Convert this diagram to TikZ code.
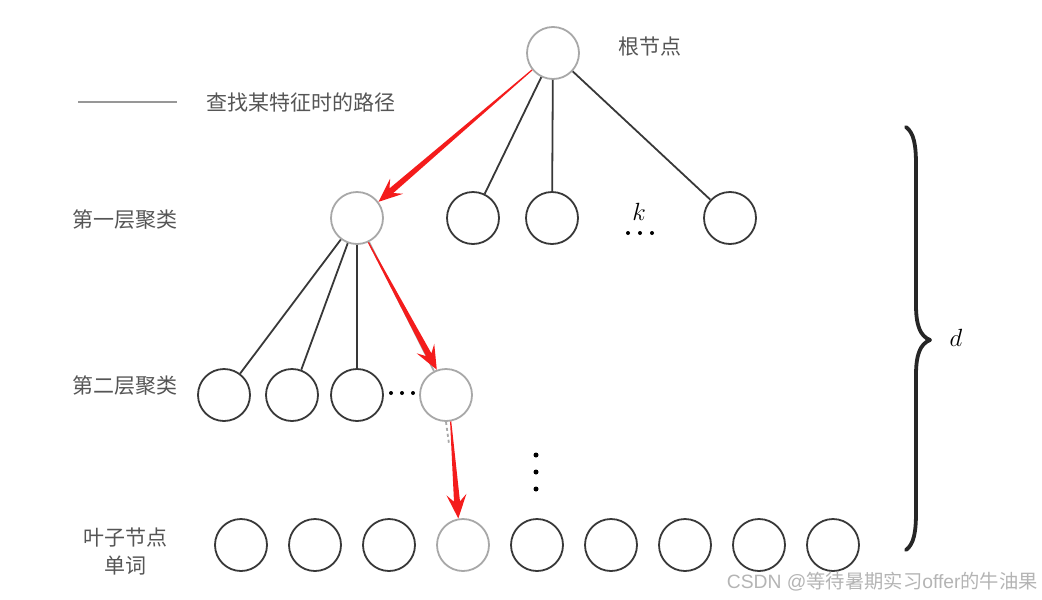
\documentclass[tikz,border=0pt]{standalone}
\usepackage{fontspec}
\newfontfamily\cjk{Noto Sans CJK SC}
\newfontfamily\wmfont{Liberation Sans}
\usetikzlibrary{arrows.meta,calc}
\definecolor{darkc}{HTML}{383838}
\definecolor{grayc}{HTML}{A8A8A8}
\definecolor{txtc}{HTML}{555555}
\definecolor{arrred}{HTML}{F41C1C}
\definecolor{wmc}{HTML}{B4B4B4}
\tikzset{
  dnode/.style={circle,draw=darkc,line width=1.8pt,minimum size=52pt,inner sep=0pt},
  gnode/.style={circle,draw=grayc,line width=1.8pt,minimum size=52pt,inner sep=0pt},
  dline/.style={draw=darkc,line width=1.8pt},
  gline/.style={draw=grayc,line width=1.8pt},
  lbl/.style={font=\cjk\fontsize{21pt}{25pt}\selectfont,text=txtc,inner sep=0pt},
  dotc/.style={fill=black},
}
\newcommand\redarr[2]{%
  \fill[arrred] ($(#1)!0.6pt!90:(#2)$) -- ($($(#2)!17pt!(#1)$)!3pt!90:(#2)$)
    -- ($($(#2)!24pt!(#1)$)!10pt!90:(#2)$) -- (#2)
    -- ($($(#2)!24pt!(#1)$)!10pt!-90:(#2)$) -- ($($(#2)!17pt!(#1)$)!3pt!-90:(#2)$)
    -- ($(#1)!0.6pt!-90:(#2)$) -- cycle;}
\begin{document}
\begin{tikzpicture}[x=1pt,y=-1pt]
\useasboundingbox (0,0) rectangle (1042,600);
% nodes
\node[gnode] (root) at (553,53) {};
\node[gnode] (L1a) at (357,218) {};
\node[dnode] (L1b) at (473,218) {};
\node[dnode] (L1c) at (552,218) {};
\node[dnode] (L1d) at (730,218) {};
\node[dnode] (L2a) at (224,395) {};
\node[dnode] (L2b) at (292,395) {};
\node[dnode] (L2c) at (357,395) {};
\node[gnode] (L2d) at (446,395) {};
\foreach \x/\n in {241/1,315/2,389/3,537/5,611/6,685/7,759/8,833/9}
  \node[dnode] (leaf\n) at (\x,545) {};
\node[gnode] (leaf4) at (463,545) {};
% connectors
\draw[dline] (root) -- (L1b);
\draw[dline] (root) -- (L1c);
\draw[dline] (root) -- (L1d);
\draw[dline] (L1a) -- (L2a);
\draw[dline] (L1a) -- (L2b);
\draw[dline] (L1a) -- (L2c);
\draw[gline] (L1a) -- (L2d);
\draw[gline,dashed] (L2d.south) -- ++(3,22);
% red path arrows
\coordinate (a1s) at (root.219);
\coordinate (a1t) at (L1a.37);
\coordinate (a2s) at (L1a.295);
\coordinate (a2t) at (L2d.110);
\coordinate (a3s) at (L2d.280);
\coordinate (a3t) at (leaf4.100);
\redarr{a1s}{a1t}
\redarr{a2s}{a2t}
\redarr{a3s}{a3t}
% dots
\foreach \x in {628,640,652} \fill[dotc] (\x,233) circle (2pt);
\foreach \x in {391,402,413} \fill[dotc] (\x,393) circle (2pt);
\foreach \y in {455,472,489} \fill[dotc] (536,\y) circle (2.5pt);
\node[inner sep=0pt,font=\fontsize{27pt}{30pt}\selectfont] (k) at (639,212) {$k$};
% labels
\node[lbl] (rootlbl) at (650,47) {根节点};
\coordinate (lg1) at (78,102);
\coordinate (lg2) at (177,102);
\draw[draw=grayc!90!black,line width=2pt] (lg1) -- (lg2);
\node[lbl] (legend) at (301,102) {查找某特征时的路径};
\node[lbl] (lv1) at (125,220) {第一层聚类};
\node[lbl] (lv2) at (125,386) {第二层聚类};
\node[lbl] (lv3) at (125,538) {叶子节点};
\node[lbl] (lv4) at (125,566) {单词};
% brace
\draw[line width=3.8pt,line cap=round,line join=round,black!85]
  (906,127) .. controls (914,133) and (916,145) .. (916,165)
  -- (916,305) .. controls (916,325) and (920,336) .. (930,340)
  .. controls (920,344) and (916,355) .. (916,375)
  -- (916,512) .. controls (916,532) and (914,544) .. (906,550);
\node[inner sep=0pt,font=\fontsize{27pt}{30pt}\selectfont] (d) at (956,338) {$d$};
% watermark
\node[anchor=east,inner sep=0pt,text=wmc,font=\fontsize{19.3pt}{22pt}\selectfont] (wm) at (1038,582)
  {\wmfont CSDN @\cjk 等待暑期实习\wmfont offer\cjk 的牛油果};
\end{tikzpicture}
\end{document}
